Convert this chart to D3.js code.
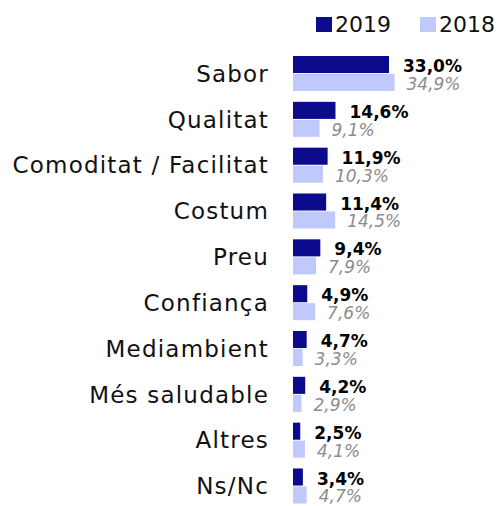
<!DOCTYPE html>
<html>
<head>
<meta charset="utf-8">
<script src="https://cdn.jsdelivr.net/npm/d3@7"></script>
<style>
  body { margin: 0; background: #fff; }
  text { font-family: "DejaVu Sans", sans-serif; }
</style>
</head>
<body>
<div id="chart"></div>
<script>
var categories = ['Sabor', 'Qualitat', 'Comoditat / Facilitat', 'Costum', 'Preu',
  'Confiança', 'Mediambient', 'Més saludable', 'Altres', 'Ns/Nc'];
var values2019 = [33.0, 14.6, 11.9, 11.4, 9.4, 4.9, 4.7, 4.2, 2.5, 3.4];
var values2018 = [34.9, 9.1, 10.3, 14.5, 7.9, 7.6, 3.3, 2.9, 4.1, 4.7];
var seriesNames = ['2019', '2018'];

var colors = {'2019': '#0b0b8c', '2018': '#c0c9fb'};

var svgWidth = 499;
var svgHeight = 506;

var data = categories.map(function(c, i) {
  return {cat: c, '2019': values2019[i], '2018': values2018[i]};
});

var svg = d3.select('#chart')
  .append('svg')
  .attr('width', svgWidth)
  .attr('height', svgHeight);

var x = d3.scaleLinear()
  .domain([0, 33])
  .range([293, 389]);

var y = d3.scaleBand()
  .domain(categories)
  .range([50.6, 508.9])
  .paddingInner(0.236)
  .paddingOuter(0.118);

var ySub = d3.scaleBand()
  .domain(seriesNames)
  .range([0, y.bandwidth()])
  .paddingInner(0.05);

// category labels
svg.append('g')
  .selectAll('text')
  .data(categories)
  .enter()
  .append('text')
  .attr('x', 269)
  .attr('y', function(d) { return y(d) + y.bandwidth() / 2; })
  .attr('dy', '0.36em')
  .attr('text-anchor', 'end')
  .attr('font-size', 23)
  .attr('letter-spacing', 1.2)
  .attr('fill', '#111')
  .text(function(d) { return d; });

var groups = svg.append('g')
  .selectAll('g')
  .data(data)
  .enter()
  .append('g')
  .attr('transform', function(d) { return 'translate(0,' + y(d.cat) + ')'; });

groups.selectAll('rect')
  .data(function(d) { return seriesNames.map(function(s) { return {s: s, v: d[s]}; }); })
  .enter()
  .append('rect')
  .attr('x', x(0))
  .attr('y', function(d) { return ySub(d.s); })
  .attr('width', function(d) { return x(d.v) - x(0); })
  .attr('height', ySub.bandwidth())
  .attr('fill', function(d) { return colors[d.s]; });

groups.selectAll('text')
  .data(function(d) { return seriesNames.map(function(s) { return {s: s, v: d[s]}; }); })
  .enter()
  .append('text')
  .attr('x', function(d) { return x(d.v) + (d.s === '2019' ? 14 : 12); })
  .attr('y', function(d) { return ySub(d.s) + ySub.bandwidth(); })
  .attr('dy', '-1')
  .attr('font-size', 17)
  .attr('font-weight', function(d) { return d.s === '2019' ? 'bold' : 'normal'; })
  .attr('font-style', function(d) { return d.s === '2019' ? 'normal' : 'italic'; })
  .attr('fill', function(d) { return d.s === '2019' ? '#000' : '#8c8c8c'; })
  .text(function(d) { return d3.format('.1f')(d.v).replace('.', ',') + '%'; });

// legend
var legendX = [316, 420];
var legend = svg.append('g')
  .selectAll('g')
  .data(seriesNames)
  .enter()
  .append('g')
  .attr('transform', function(d, i) { return 'translate(' + legendX[i] + ',0)'; });

legend.append('rect')
  .attr('x', 0)
  .attr('y', 17)
  .attr('width', 16)
  .attr('height', 15)
  .attr('fill', function(d) { return colors[d]; });

legend.append('text')
  .attr('x', 19)
  .attr('y', 32)
  .attr('font-size', 22)
  .attr('fill', '#111')
  .text(function(d) { return d; });
</script>
</body>
</html>
